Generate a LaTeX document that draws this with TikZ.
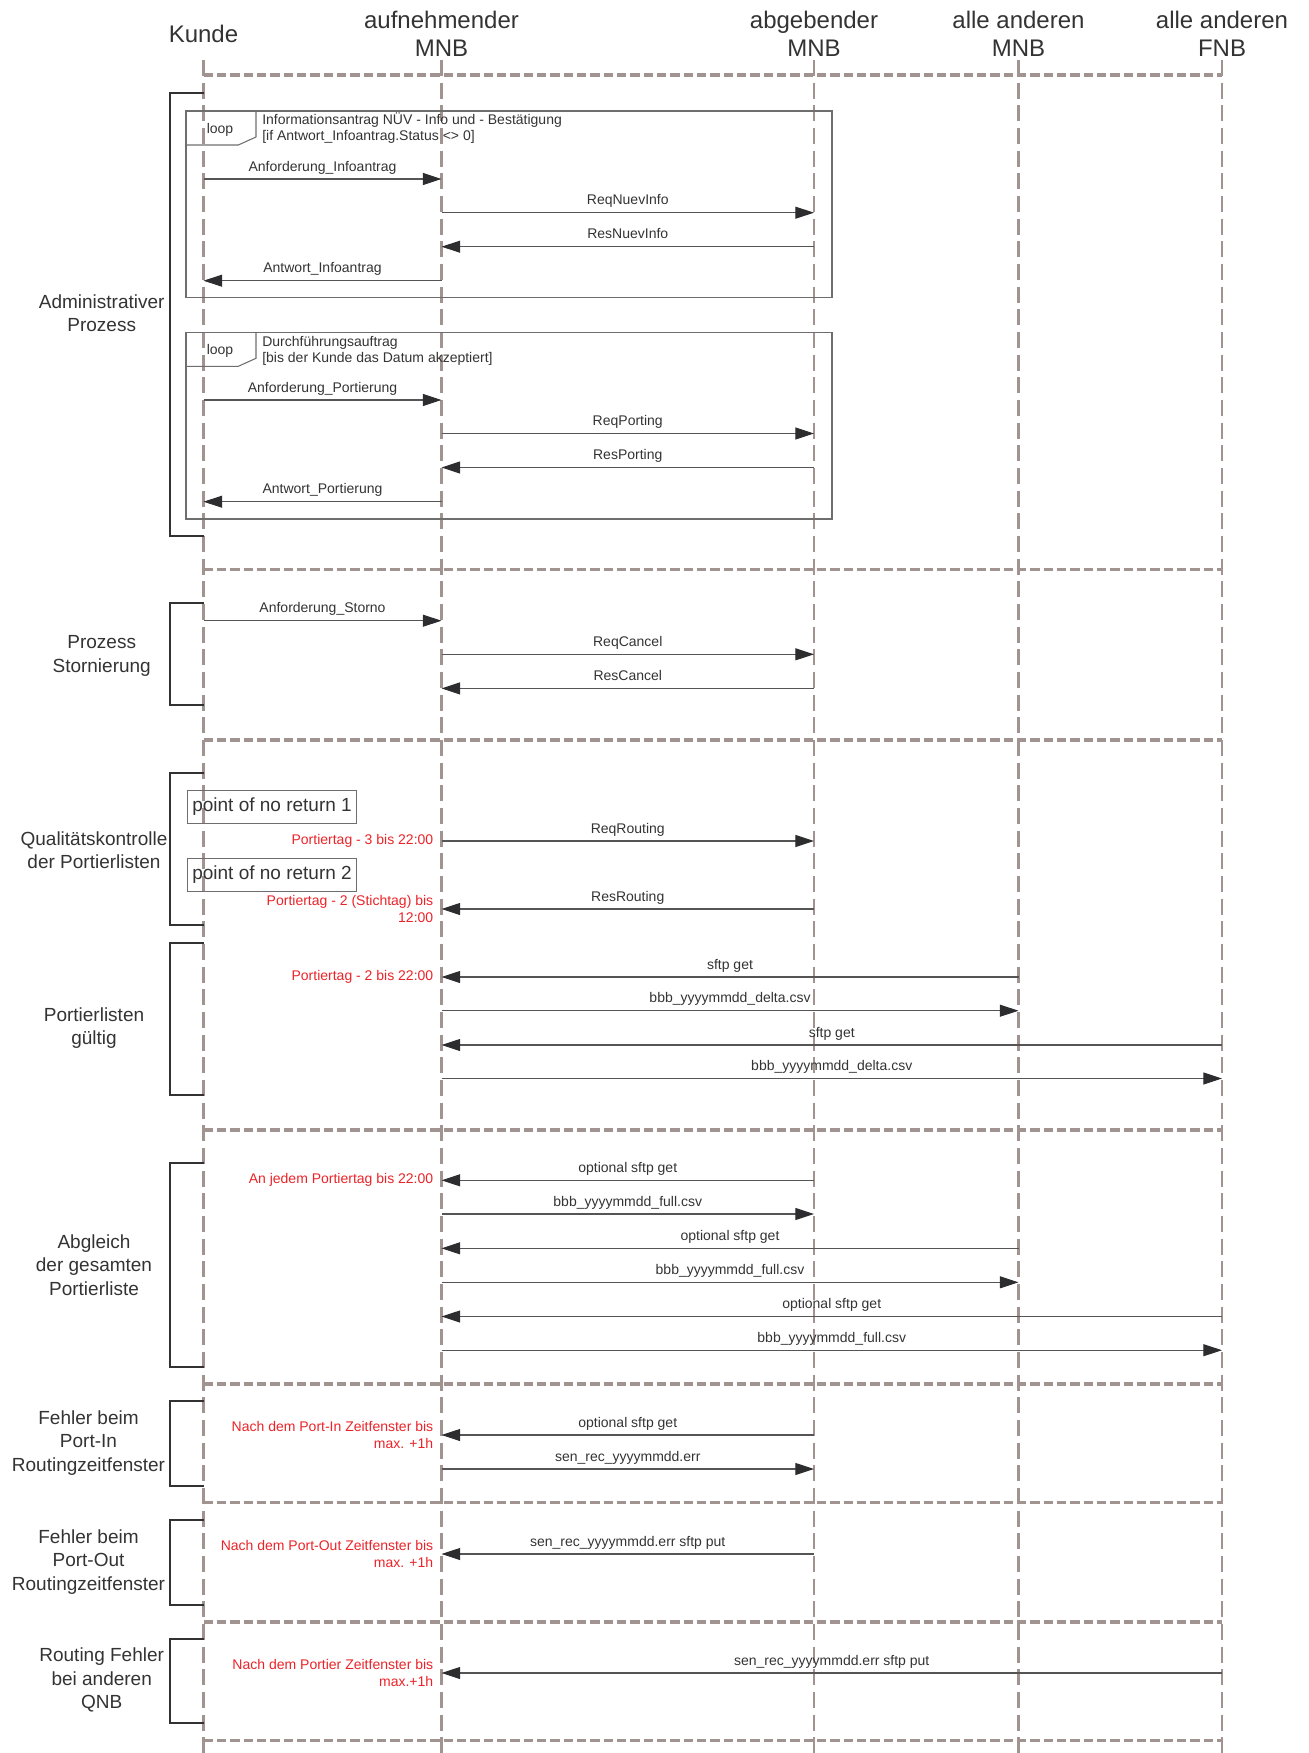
\documentclass[tikz,border=0pt]{standalone}
\usepackage{fontspec}
\setmainfont{Liberation Sans}
\usetikzlibrary{arrows.meta}
\definecolor{lifec}{RGB}{161,148,144}
\definecolor{txtc}{RGB}{51,51,51}
\definecolor{msgc}{RGB}{85,85,85}
\definecolor{tipc}{RGB}{45,45,48}
\definecolor{redc}{RGB}{235,35,40}
\definecolor{framec}{RGB}{110,110,110}
\definecolor{brc}{RGB}{50,50,50}
\tikzset{
 lifeline/.style={draw=lifec, line width=2.2pt, dash pattern=on 12pt off 5pt},
 sepline/.style={draw=lifec, line width=2.4pt, dash pattern=on 7pt off 3pt},
 msgarrow/.style={draw=msgc, line width=0.8pt, -{Triangle[length=14pt,width=9pt,color=tipc]}},
 msglabel/.style={font=\fontsize{10.5}{12.6}\selectfont, text=txtc, anchor=base, inner sep=0pt, yshift=6pt},
 redlabel/.style={font=\fontsize{10.5}{12.5}\selectfont, text=redc, anchor=east, align=right, inner sep=0pt, xshift=-6pt},
 headlabel/.style={font=\fontsize{18}{21}\selectfont, text=txtc, align=center},
 sidelabel/.style={font=\fontsize{14.25}{17.5}\selectfont, text=txtc, align=center},
 bracketline/.style={draw=brc, line width=1.5pt},
 loopframe/.style={draw=framec, line width=0.8pt},
 pnrbox/.style={draw=framec, line width=0.8pt, font=\fontsize{14.25}{17}\selectfont, text=txtc, anchor=west, inner xsep=3.8pt, inner ysep=0pt, minimum height=25pt},
 looptext/.style={font=\fontsize{10.5}{12.3}\selectfont, text=txtc, inner sep=0pt}
}
\newcommand\sqmsg[5]{\coordinate (#1) at (0,#2);
  \draw[msgarrow] (#3 |- #1) -- (#4 |- #1) node[msglabel, pos=0.5] {#5};}
\newcommand\redlbl[3]{\node[redlabel] (#1) at (A |- #2) {#3};}
\newcommand\brk[2]{\draw[bracketline] (203.5,#1) -- (170,#1) -- (170,#2) -- (203.5,#2);}
\begin{document}
\begin{tikzpicture}[x=0.75pt,y=-0.75pt]
\useasboundingbox (0,0) rectangle (1309,1753);
% headers
\node[headlabel] (hK) at (203.5,34) {Kunde};
\node[headlabel] (hA) at (441.5,34) {aufnehmender\\MNB};
\node[headlabel] (hB) at (814,34) {abgebender\\MNB};
\node[headlabel] (hC) at (1018.5,34) {alle anderen\\MNB};
\node[headlabel] (hD) at (1222,34) {alle anderen\\FNB};
% lifelines
\coordinate (K) at (203.5,60);  \coordinate (Ke) at (203.5,1753);
\coordinate (A) at (441.5,60);  \coordinate (Ae) at (441.5,1753);
\coordinate (B) at (814,60);    \coordinate (Be) at (814,1753);
\coordinate (C) at (1018.5,60); \coordinate (Ce) at (1018.5,1753);
\coordinate (D) at (1222,60);   \coordinate (De) at (1222,1753);
\foreach \s/\e in {K/Ke,A/Ae,B/Be,C/Ce,D/De} \draw[lifeline] (\s) -- (\e);
% separators
\foreach \y [count=\i] in {75,569.3,740,1130,1384,1502.7,1622,1740.5} {
  \coordinate (sep\i) at (0,\y);
  \draw[sepline] (K |- sep\i) -- (D |- sep\i);
}
% brackets
\brk{93.3}{536}
\brk{603.3}{705}
\brk{772.7}{925}
\brk{942.7}{1095.3}
\brk{1163.3}{1367.3}
\brk{1400.7}{1486}
\brk{1520}{1605}
\brk{1638.7}{1723}
% side labels
\node[sidelabel] (l1) at (101.7,313.5) {Administrativer\\Prozess};
\node[sidelabel] (l2) at (101.7,656) {Prozess\\Stornierung};
\node[sidelabel] (l3) at (94,850) {Qualitätskontrolle\\der Portierlisten};
\node[sidelabel] (l4) at (94,1028) {Portierlisten\\gültig};
\node[sidelabel] (l5) at (94,1265) {Abgleich\\der gesamten\\Portierliste};
\node[sidelabel] (l6) at (88.5,1443) {Fehler beim\\Port-In\\Routingzeitfenster};
\node[sidelabel] (l7) at (88.5,1562) {Fehler beim\\Port-Out\\Routingzeitfenster};
\node[sidelabel] (l8) at (101.7,1680) {Routing Fehler\\bei anderen\\QNB};
% loop 1
\draw[loopframe] (186,111) rectangle (832,297.7);
\draw[loopframe] (186,145) -- (238.3,145) -- (256,137) -- (256,111);
\node[looptext, anchor=base] (lp1) at (220,133.3) {loop};
\node[looptext, anchor=base west] (lt1a) at (262,124.3) {Informationsantrag NÜV - Info und - Bestätigung};
\node[looptext, anchor=base west] (lt1b) at (262,140.7) {[if Antwort\_Infoantrag.Status <> 0]};
\sqmsg{m1}{179}{K}{A}{Anforderung\_Infoantrag}
\sqmsg{m2}{212.7}{A}{B}{ReqNuevInfo}
\sqmsg{m3}{246.7}{B}{A}{ResNuevInfo}
\sqmsg{m4}{280.7}{A}{K}{Antwort\_Infoantrag}
% loop 2
\draw[loopframe] (186,332.3) rectangle (832,519);
\draw[loopframe] (186,366.3) -- (238.3,366.3) -- (256,358.3) -- (256,332.3);
\node[looptext, anchor=base] (lp2) at (220,354) {loop};
\node[looptext, anchor=base west] (lt2a) at (262,346) {Durchführungsauftrag};
\node[looptext, anchor=base west] (lt2b) at (262,362.3) {[bis der Kunde das Datum akzeptiert]};
\sqmsg{m5}{400}{K}{A}{Anforderung\_Portierung}
\sqmsg{m6}{433.5}{A}{B}{ReqPorting}
\sqmsg{m7}{467.5}{B}{A}{ResPorting}
\sqmsg{m8}{501.7}{A}{K}{Antwort\_Portierung}
% Stornierung
\sqmsg{m9}{620.7}{K}{A}{Anforderung\_Storno}
\sqmsg{m10}{654.3}{A}{B}{ReqCancel}
\sqmsg{m11}{688.4}{B}{A}{ResCancel}
% Qualitaetskontrolle
\node[pnrbox] (p1) at (186.7,806.7) {point of no return 1};
\node[pnrbox] (p2) at (186.7,874.7) {point of no return 2};
\sqmsg{m12}{841}{A}{B}{ReqRouting}
\redlbl{r12}{m12}{Portiertag - 3 bis 22:00}
\sqmsg{m13}{909}{B}{A}{ResRouting}
\redlbl{r13}{m13}{Portiertag - 2 (Stichtag) bis\\12:00}
% Portierlisten gueltig
\sqmsg{m14}{977}{C}{A}{sftp get}
\redlbl{r14}{m14}{Portiertag - 2 bis 22:00}
\sqmsg{m15}{1010.7}{A}{C}{bbb\_yyyymmdd\_delta.csv}
\sqmsg{m16}{1045}{D}{A}{sftp get}
\sqmsg{m17}{1078.5}{A}{D}{bbb\_yyyymmdd\_delta.csv}
% Abgleich
\sqmsg{m18}{1180.3}{B}{A}{optional sftp get}
\redlbl{r18}{m18}{An jedem Portiertag bis 22:00}
\sqmsg{m19}{1214}{A}{B}{bbb\_yyyymmdd\_full.csv}
\sqmsg{m20}{1248.3}{C}{A}{optional sftp get}
\sqmsg{m21}{1282.3}{A}{C}{bbb\_yyyymmdd\_full.csv}
\sqmsg{m22}{1316.5}{D}{A}{optional sftp get}
\sqmsg{m23}{1350.2}{A}{D}{bbb\_yyyymmdd\_full.csv}
% Fehler Port-In
\sqmsg{m24}{1435}{B}{A}{optional sftp get}
\redlbl{r24}{m24}{Nach dem Port-In Zeitfenster bis\\max. +1h}
\sqmsg{m25}{1469}{A}{B}{sen\_rec\_yyyymmdd.err}
% Fehler Port-Out
\sqmsg{m26}{1554}{B}{A}{sen\_rec\_yyyymmdd.err sftp put}
\redlbl{r26}{m26}{Nach dem Port-Out Zeitfenster bis\\max. +1h}
% Routing Fehler
\sqmsg{m27}{1673}{D}{A}{sen\_rec\_yyyymmdd.err sftp put}
\redlbl{r27}{m27}{Nach dem Portier Zeitfenster bis\\max.+1h}
\end{tikzpicture}
\end{document}
